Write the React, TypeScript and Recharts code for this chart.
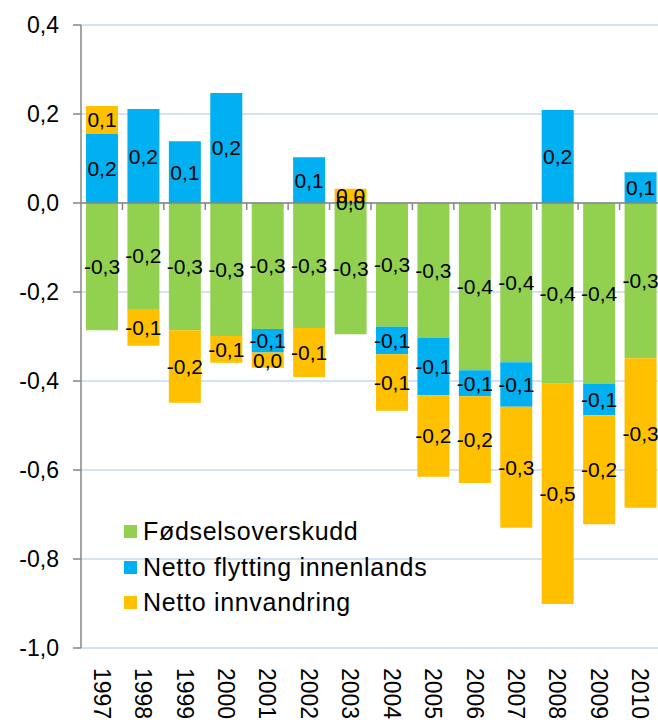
import React from 'react';
import { BarChart, Bar, XAxis, YAxis, CartesianGrid, LabelList, ReferenceLine } from 'recharts';

const years = ['1997', '1998', '1999', '2000', '2001', '2002', '2003', '2004', '2005', '2006', '2007', '2008', '2009', '2010'];
const birthSurplus = [-0.286, -0.238, -0.286, -0.299, -0.283, -0.281, -0.295, -0.278, -0.302, -0.376, -0.358, -0.406, -0.407, -0.349];
const domesticMigration = [0.155, 0.211, 0.139, 0.247, -0.053, 0.103, 0.002, -0.062, -0.13, -0.058, -0.1, 0.209, -0.07, 0.069];
const netImmigration = [0.063, -0.083, -0.163, -0.06, -0.034, -0.11, 0.03, -0.127, -0.183, -0.195, -0.272, -0.495, -0.245, -0.336];
const yTicks = [-1, -0.8, -0.6, -0.4, -0.2, 0, 0.2, 0.4];

const seriesNames = ['Fødselsoverskudd', 'Netto flytting innenlands', 'Netto innvandring'];
const colors = ['#92d050', '#00b0f0', '#ffc000'];

const data = years.map((y, i) => ({
  year: y,
  births: birthSurplus[i],
  domestic: domesticMigration[i],
  immigration: netImmigration[i],
}));

const FONT = 'Liberation Sans, Arial, sans-serif';

const fmt = (v: any) => {
  const n = Number(v);
  const r = Math.round(n * 10) / 10;
  if (r === 0) return '0,0';
  return r.toFixed(1).replace('.', ',');
};

const XTick = (props: any) => {
  const { x, y, payload } = props;
  return (
    <text
      transform={`translate(${x},${y + 18}) rotate(90)`}
      x={0}
      y={0}
      dy="0.35em"
      textAnchor="start"
      fontFamily={FONT}
      fontSize={23}
      fill="#000"
    >
      {payload.value}
    </text>
  );
};

const ZeroAxis = (props: any) => {
  const { x1, y1, x2 } = props;
  const n = years.length;
  const w = (x2 - x1) / n;
  const ticks = [];
  for (let i = 1; i <= n; i++) {
    const tx = x1 + i * w;
    ticks.push(<line key={i} x1={tx} y1={y1} x2={tx} y2={y1 + 7} stroke="#868686" strokeWidth={1.5} />);
  }
  return (
    <g>
      <line x1={x1} y1={y1} x2={x2} y2={y1} stroke="#868686" strokeWidth={1.5} />
      {ticks}
    </g>
  );
};

const LegendBox = () => (
  <div style={{ position: 'absolute', left: 124, top: 514, fontFamily: FONT, fontSize: 25, letterSpacing: 0.7, color: '#000' }}>
    {seriesNames.map((name, i) => (
      <div key={name} style={{ display: 'flex', alignItems: 'center', height: 35.5 }}>
        <span style={{ display: 'inline-block', width: 13, height: 13, background: colors[i], marginRight: 6 }} />
        <span style={{ whiteSpace: 'nowrap' }}>{name}</span>
      </div>
    ))}
  </div>
);

export default function App() {
  return (
    <div style={{ position: 'absolute', left: 0, top: 0, width: 658, height: 724, overflow: 'hidden', background: '#fff' }}>
      <BarChart
        width={662}
        height={724}
        data={data}
        stackOffset="sign"
        margin={{ top: 25, right: 1, bottom: 0, left: 0 }}
        barSize={32}
      >
        <CartesianGrid vertical={false} stroke="#c6d9f1" strokeWidth={1.5} />
        <XAxis
          dataKey="year"
          axisLine={false}
          tickLine={false}
          tickSize={0}
          height={76}
          interval={0}
          tick={<XTick />}
        />
        <YAxis
          domain={[-1, 0.4]}
          ticks={yTicks}
          width={81}
          tickSize={8}
          tickMargin={14}
          axisLine={{ stroke: '#868686', strokeWidth: 1.5 }}
          tickLine={{ stroke: '#868686', strokeWidth: 1.5 }}
          tickFormatter={(v: number) => v.toFixed(1).replace('.', ',')}
          tick={{ fontFamily: FONT, fontSize: 23, fill: '#000' }}
          allowDataOverflow
        />
        <Bar dataKey="births" name={seriesNames[0]} stackId="a" fill={colors[0]} isAnimationActive={false}>
          <LabelList dataKey="births" position="center" formatter={fmt} style={{ fontFamily: FONT, fontSize: 21, fill: '#000' }} />
        </Bar>
        <Bar dataKey="domestic" name={seriesNames[1]} stackId="a" fill={colors[1]} isAnimationActive={false}>
          <LabelList dataKey="domestic" position="center" formatter={fmt} style={{ fontFamily: FONT, fontSize: 21, fill: '#000' }} />
        </Bar>
        <Bar dataKey="immigration" name={seriesNames[2]} stackId="a" fill={colors[2]} isAnimationActive={false}>
          <LabelList dataKey="immigration" position="center" formatter={fmt} style={{ fontFamily: FONT, fontSize: 21, fill: '#000' }} />
        </Bar>
        <ReferenceLine y={0} shape={<ZeroAxis />} />
      </BarChart>
      <LegendBox />
    </div>
  );
}
